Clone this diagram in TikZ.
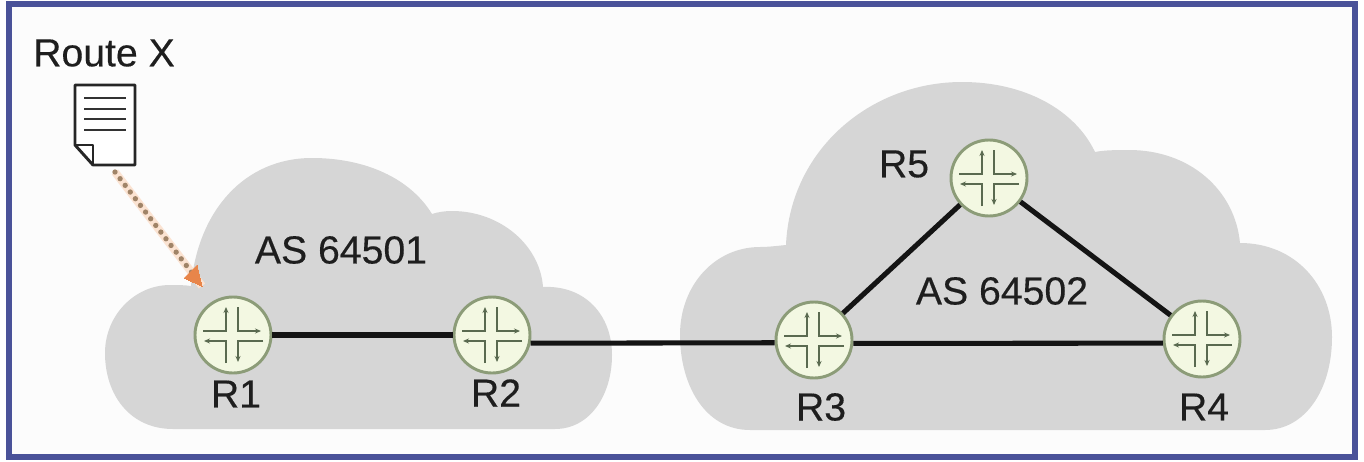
\documentclass[tikz,border=0pt]{standalone}
\usepackage{fontspec}
\setmainfont{Liberation Sans}
\usetikzlibrary{arrows.meta}
\definecolor{framecol}{HTML}{4A5299}
\definecolor{cloudcol}{HTML}{D6D6D6}
\definecolor{routerfill}{HTML}{F3F8E2}
\definecolor{routerline}{HTML}{8C9C78}
\definecolor{glyphcol}{HTML}{5A6A50}
\definecolor{textcol}{HTML}{1E1E1E}
\definecolor{arrowcol}{HTML}{E8854A}
\definecolor{halocol}{HTML}{FBE3D2}
\definecolor{dotcol}{HTML}{A08468}
\tikzset{
  cloudshape/.style={fill=cloudcol,draw=none},
  label text/.style={inner sep=0pt,text=textcol,font=\fontsize{29.4}{29.4}\selectfont\addfontfeatures{FakeBold=0.35}},
  link/.style={line width=3.8pt,black!92},
  docline/.style={line width=2pt,black!80},
  glyph/.style={line width=1.3pt,glyphcol},
  glypharrow/.style={glyph,-{Stealth[length=4.5pt,width=3.8pt]}},
  router/.style={circle,draw=routerline,line width=2.2pt,fill=routerfill,inner sep=0pt,minimum size=57pt,
    path picture={
      \begin{scope}[shift={(path picture bounding box.center)}]
        \draw[glypharrow] (-30,-4) -- (-7,-4) -- (-7,-28);
        \draw[glypharrow] (5,-28) -- (5,-4) -- (28,-4);
        \draw[glypharrow] (-7,28) -- (-7,6) -- (-29,6);
        \draw[glypharrow] (30,6) -- (5,6) -- (5,27);
      \end{scope}
    }},
}
\begin{document}
\begin{tikzpicture}[x=0.75pt,y=-0.75pt]
\useasboundingbox (0,0) rectangle (1364,461);
\fill[white] (0,0) rectangle (1364,461);
\draw[framecol,line width=3.8pt,fill=white!99!black] (9,4) rectangle (1355,457);
% clouds
\path[cloudshape] (173,429) .. controls (130,429) and (105,395) .. (105,353)
  .. controls (105,315) and (135,285) .. (170,285)
  .. controls (178,285) and (184,285) .. (191,286)
  .. controls (198,210) and (245,158) .. (312,158)
  .. controls (365,158) and (410,178) .. (432,214)
  .. controls (438,212) and (445,211) .. (452,211)
  .. controls (500,211) and (540,245) .. (543,287)
  .. controls (585,285) and (612,315) .. (612,355)
  .. controls (612,395) and (590,429) .. (555,429) -- cycle;
\path[cloudshape] (750,430) .. controls (705,430) and (680,385) .. (680,335)
  .. controls (680,285) and (715,247) .. (760,247)
  .. controls (768,247) and (776,246) .. (786,245)
  .. controls (790,150) and (870,82) .. (962,82)
  .. controls (1025,82) and (1075,110) .. (1095,152)
  .. controls (1105,150) and (1118,150) .. (1129,150)
  .. controls (1190,150) and (1235,190) .. (1240,243)
  .. controls (1295,243) and (1332,285) .. (1332,337)
  .. controls (1332,390) and (1305,430) .. (1265,430) -- cycle;
% routers
\node[router] (R1) at (233,335) {};
\node[router] (R2) at (492,335) {};
\node[router] (R3) at (814,340) {};
\node[router] (R4) at (1202,339) {};
\node[router] (R5) at (989,178) {};
% links
\draw[link] (R1) -- (R2);
\draw[link] (R2.-12) -- (R3.184);
\draw[link] (R3.-5) -- (R4.186);
\draw[link] (R3) -- (R5);
\draw[link] (R5) -- (R4);
% document
\node[draw=none,inner sep=0pt,minimum width=45pt,minimum height=60pt] (doc) at (105,125) {};
\draw[black!85,line width=2.2pt,line join=round,fill=white] (75,85) -- (135,85) -- (135,165) -- (93,165) -- (75,145) -- cycle;
\draw[black!85,line width=1.7pt,line join=round] (75,145) -- (93,145) -- (93,165);
\draw[docline] (84,98) -- (126,98);
\draw[docline] (84,109) -- (126,109);
\draw[docline] (84,119) -- (126,119);
\draw[docline] (84,130) -- (126,130);
% arrow
\coordinate (tip) at (202,286);
\coordinate (tail) at (115,172);
\draw[halocol,line width=6pt] (tail) -- (tip);
\draw[dotcol,line width=4pt,line cap=round,dash pattern=on 0pt off 6.3pt,shorten >=12pt] (tail) -- (tip);
\draw[arrowcol,line width=0pt,fill=arrowcol] (tip) -- ++(-18,-8) -- ++(13,-13) -- cycle;
% labels
\node[label text] (tRoute) at (104,53) {Route X};
\node[label text] (tAS1) at (341,250) {AS 64501};
\node[label text] (tAS2) at (1002,291) {AS 64502};
\node[label text] (tR1) at (236,394) {R1};
\node[label text] (tR2) at (496,393) {R2};
\node[label text] (tR3) at (821,407) {R3};
\node[label text] (tR4) at (1204,407) {R4};
\node[label text] (tR5) at (904,164) {R5};
\end{tikzpicture}
\end{document}
